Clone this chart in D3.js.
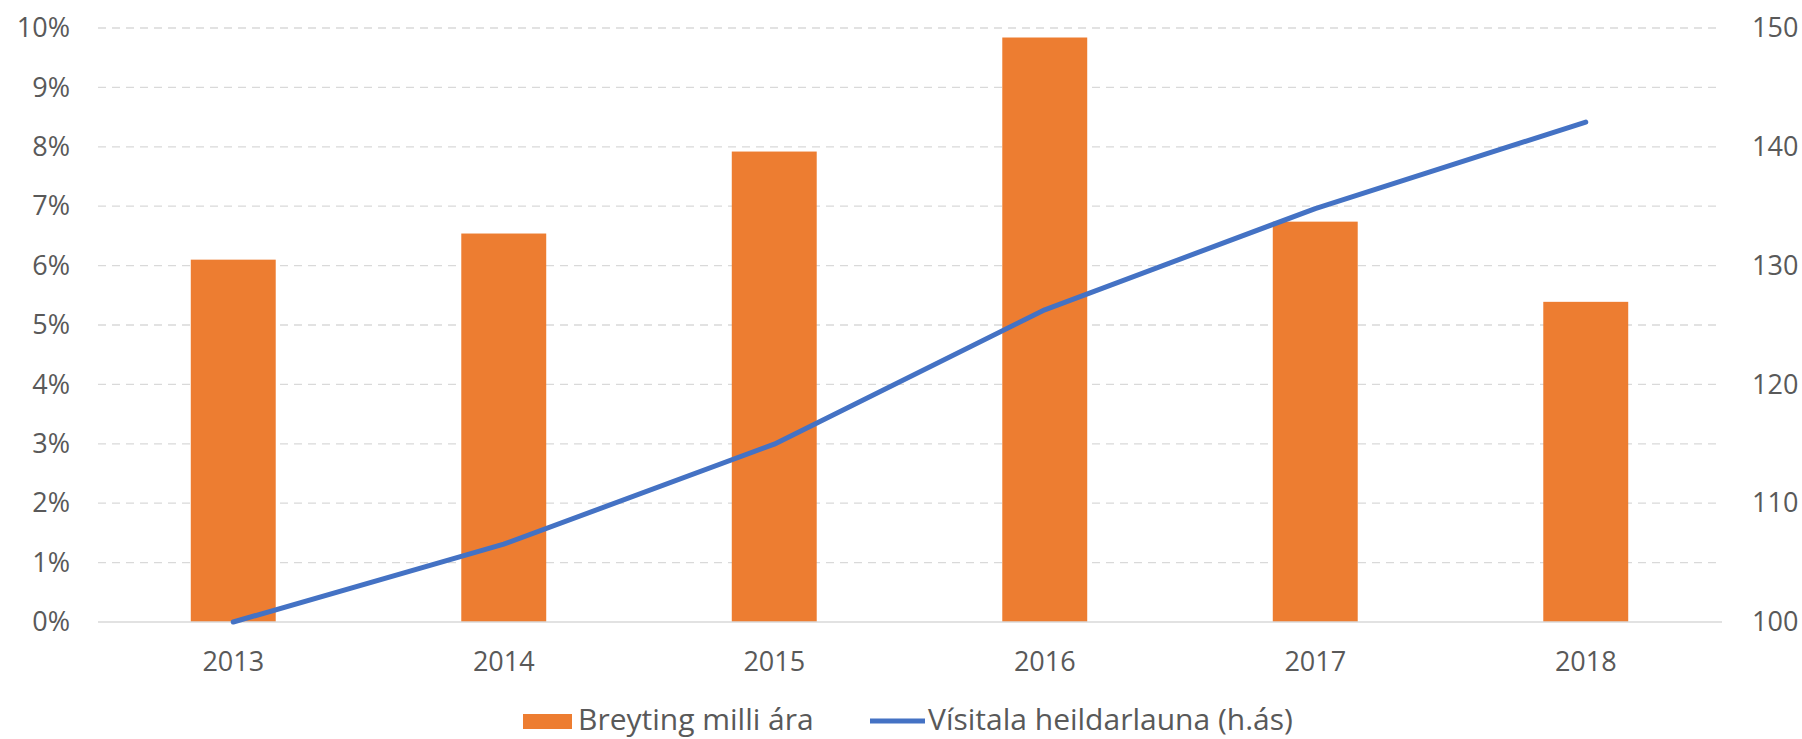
<!DOCTYPE html>
<html>
<head>
<meta charset="utf-8">
<script src="https://cdn.jsdelivr.net/npm/d3@7"></script>
<style>
  html, body { margin: 0; padding: 0; background: #fff; }
  svg { display: block; }
  text { font-family: "Open Sans", "Noto Sans", sans-serif; fill: #595959; }
</style>
</head>
<body>
<svg id="chart" width="1802" height="739"></svg>
<script>
const years = ["2013", "2014", "2015", "2016", "2017", "2018"];
const change = [0.0610, 0.0654, 0.0792, 0.0984, 0.0674, 0.0539];
const index = [100.0, 106.55, 114.97, 126.28, 134.80, 142.08];
const leftTicks = [0, 0.01, 0.02, 0.03, 0.04, 0.05, 0.06, 0.07, 0.08, 0.09, 0.10];
const rightTicks = [100, 110, 120, 130, 140, 150];
const legendLabels = ["Breyting milli ára", "Vísitala heildarlauna (h.ás)"];

const svg = d3.select("#chart");
const X0 = 98, X1 = 1721, Y0 = 622, Y1 = 28;

const x = d3.scaleBand().domain(years).range([X0, X1]).paddingInner(0.686).paddingOuter(0.343);
const yL = d3.scaleLinear().domain([0, 0.10]).range([Y0, Y1]);
const yR = d3.scaleLinear().domain([100, 150]).range([Y0, Y1]);

// gridlines
svg.append("g").selectAll("line").data(leftTicks.filter(d => d > 0)).join("line")
  .attr("x1", X0).attr("x2", X1 - 3)
  .attr("y1", d => yL(d)).attr("y2", d => yL(d))
  .attr("stroke", "#d9d9d9").attr("stroke-width", 1.3).attr("stroke-dasharray", "8,6");

// left axis
const axL = svg.append("g").attr("transform", `translate(${X0},0)`)
  .call(d3.axisLeft(yL).tickValues(leftTicks).tickFormat(d3.format(".0%")).tickSize(0).tickPadding(28));
axL.select(".domain").remove();
axL.selectAll("text").style("font-size", "27px").attr("fill", "#595959").attr("dy", "0.32em");

// right axis
const axR = svg.append("g").attr("transform", `translate(${X1},0)`)
  .call(d3.axisRight(yR).tickValues(rightTicks).tickSize(0).tickPadding(31));
axR.select(".domain").remove();
axR.selectAll("text").style("font-size", "27px").attr("fill", "#595959").attr("dy", "0.32em");

// bars
svg.append("g").selectAll("rect").data(years).join("rect")
  .attr("x", d => x(d)).attr("width", x.bandwidth())
  .attr("y", (d, i) => yL(change[i])).attr("height", (d, i) => Y0 - yL(change[i]))
  .attr("fill", "#ED7D31");

// x axis
const axB = svg.append("g").attr("transform", `translate(0,${Y0})`)
  .call(d3.axisBottom(x).tickSize(0).tickPadding(30));
axB.select(".domain").attr("stroke", "#d9d9d9").attr("stroke-width", 1.5).attr("d", `M${X0},0H${X1 + 1}`);
axB.selectAll("text").style("font-size", "27px").attr("fill", "#595959");

// line
const line = d3.line().x((d, i) => x(years[i]) + x.bandwidth() / 2).y(d => yR(d));
svg.append("path").datum(index).attr("d", line)
  .attr("fill", "none").attr("stroke", "#4472C4").attr("stroke-width", 5)
  .attr("stroke-linecap", "round").attr("stroke-linejoin", "round");

// legend
const lg = svg.append("g");
lg.append("rect").attr("x", 523).attr("y", 714).attr("width", 49).attr("height", 15).attr("fill", "#ED7D31");
lg.append("text").attr("x", 578).attr("y", 730).style("font-size", "30px").text(legendLabels[0]);
lg.append("line").attr("x1", 870).attr("x2", 925).attr("y1", 721).attr("y2", 721)
  .attr("stroke", "#4472C4").attr("stroke-width", 5);
lg.append("text").attr("x", 928).attr("y", 730).style("font-size", "30px").text(legendLabels[1]);
</script>
</body>
</html>
